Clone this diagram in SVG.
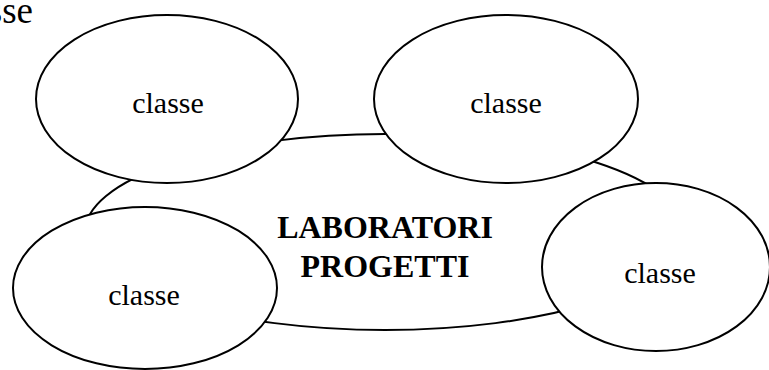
<svg xmlns="http://www.w3.org/2000/svg" width="769" height="370" viewBox="0 0 769 370">
<style>
.e{fill:#fff;stroke:#000;stroke-width:2}
.t{font-family:"Liberation Serif","Times New Roman",serif;font-size:30px;fill:#000;text-anchor:middle}
.b{font-family:"Liberation Serif","Times New Roman",serif;font-size:32px;font-weight:bold;fill:#000;text-anchor:middle}
</style>
<rect width="769" height="370" fill="#fff"/>
<text x="33" y="23" class="t" style="text-anchor:end;font-size:37px">classe</text>
<g id="center">
<ellipse class="e" cx="385" cy="232" rx="300" ry="98"/>
<text class="b" x="385" y="238">LABORATORI</text>
<text class="b" x="385" y="277">PROGETTI</text>
</g>
<g id="c1">
<ellipse class="e" cx="167" cy="99" rx="131" ry="84"/>
<text class="t" x="168" y="113">classe</text>
</g>
<g id="c2">
<ellipse class="e" cx="506" cy="99" rx="132" ry="84"/>
<text class="t" x="506" y="113">classe</text>
</g>
<g id="c3">
<ellipse class="e" cx="145" cy="288" rx="132" ry="81"/>
<text class="t" x="144" y="305">classe</text>
</g>
<g id="c4">
<ellipse class="e" cx="656" cy="267" rx="114" ry="84"/>
<text class="t" x="660" y="283">classe</text>
</g>
<g id="connectors"></g>
</svg>
